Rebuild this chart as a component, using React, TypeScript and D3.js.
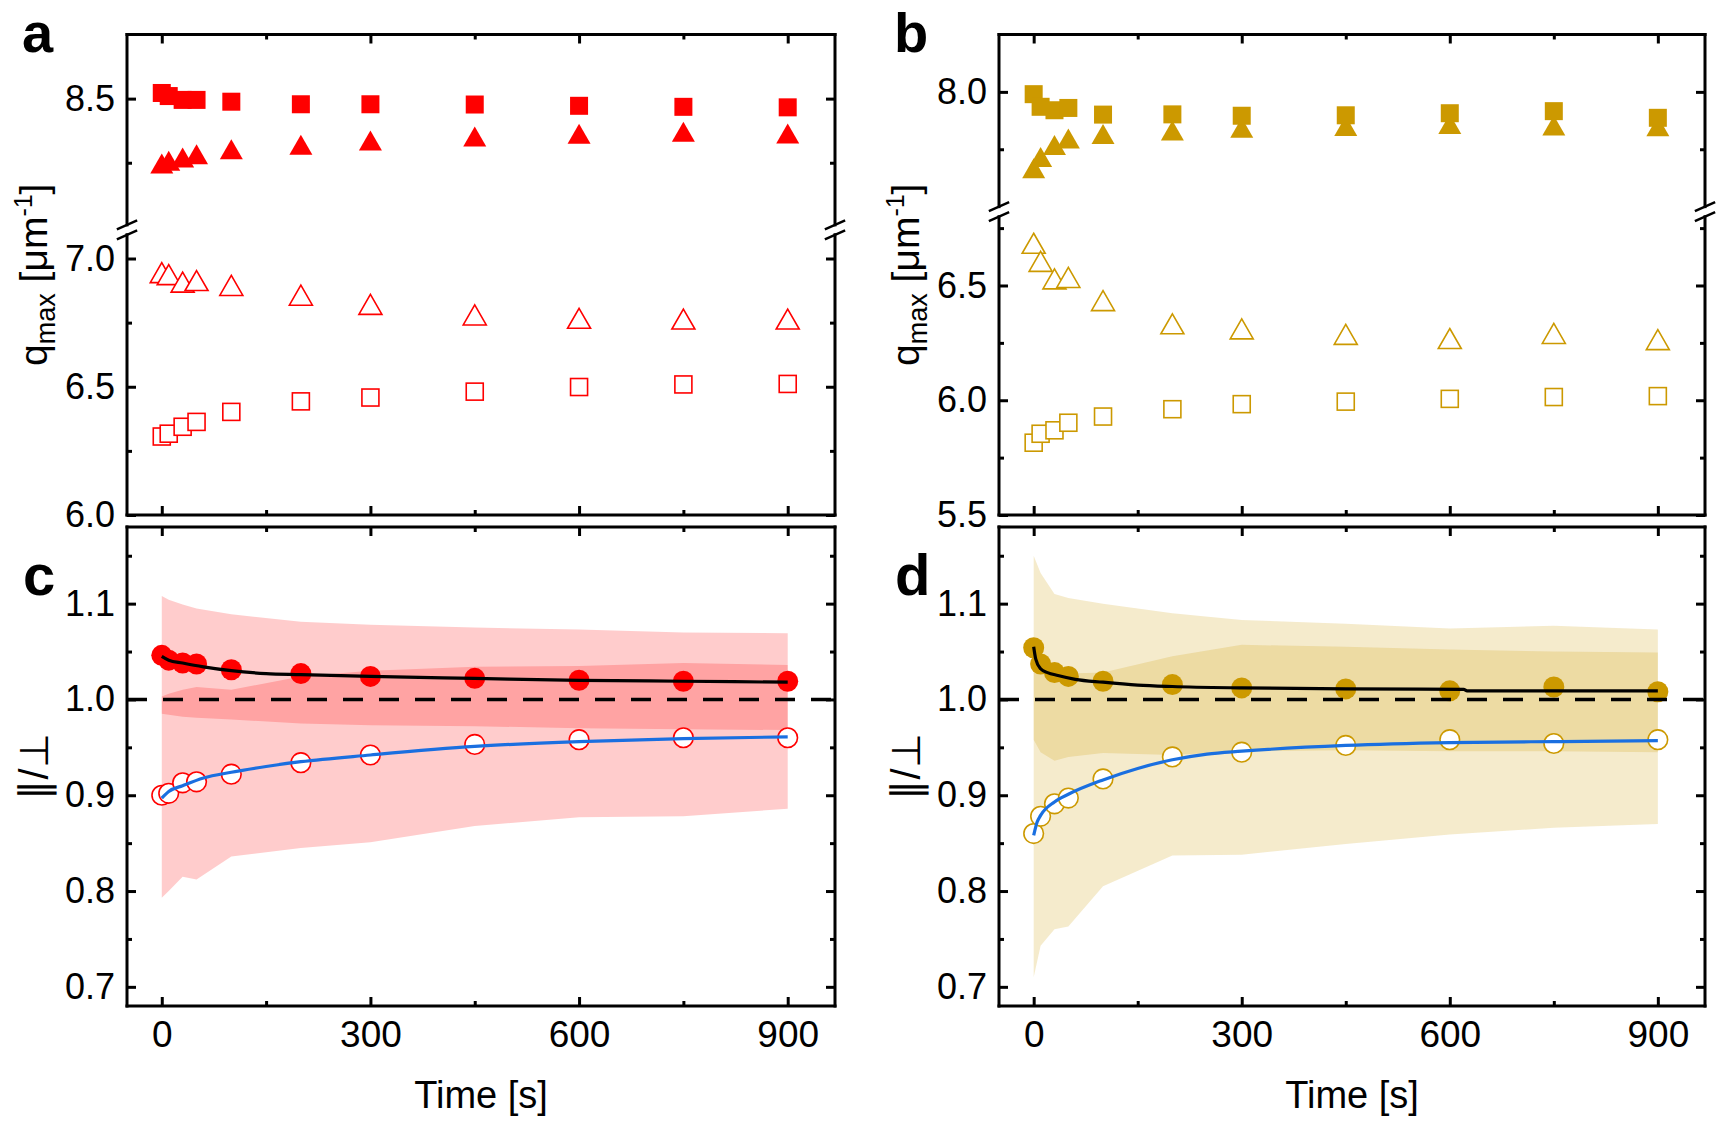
'use client'
import React, { useRef, useEffect } from 'react';
import * as d3 from 'd3';

// sampling times [s]
const times = [0, 10, 30, 50, 100, 200, 300, 450, 600, 750, 900];
const xTicks = [0, 300, 600, 900];
const xMinorTicks = [150, 450, 750];

// panel a : q_max, red
const aFilledSquare = [8.522, 8.51, 8.495, 8.495, 8.488, 8.478, 8.478, 8.477, 8.472, 8.468, 8.466];
const aFilledTriangle = [8.247, 8.258, 8.27, 8.283, 8.303, 8.32, 8.337, 8.352, 8.363, 8.371, 8.364];
const aOpenTriangle = [6.945, 6.937, 6.908, 6.914, 6.895, 6.857, 6.821, 6.78, 6.767, 6.764, 6.764];
const aOpenSquare = [6.306, 6.317, 6.344, 6.363, 6.402, 6.443, 6.458, 6.481, 6.499, 6.509, 6.511];
const aUpperDomain = [8.0, 8.75];
const aLowerDomain = [6.0, 7.1];
const aUpperTicks = [8.5];
const aUpperMinor = [8.25];
const aLowerTicks = [6.0, 6.5, 7.0];
const aLowerMinor = [6.25, 6.75];

// panel b : q_max, gold
const bFilledSquare = [7.99, 7.935, 7.92, 7.93, 7.901, 7.902, 7.896, 7.898, 7.907, 7.916, 7.887];
const bFilledTriangle = [7.667, 7.716, 7.769, 7.797, 7.817, 7.832, 7.844, 7.851, 7.86, 7.853, 7.85];
const bOpenTriangle = [6.684, 6.605, 6.529, 6.535, 6.434, 6.333, 6.311, 6.287, 6.269, 6.291, 6.264];
const bOpenSquare = [5.815, 5.854, 5.869, 5.902, 5.929, 5.961, 5.983, 5.994, 6.006, 6.014, 6.018];
const bUpperDomain = [7.5, 8.25];
const bLowerDomain = [5.5, 6.8];
const bUpperTicks = [8.0];
const bUpperMinor = [7.75];
const bLowerTicks = [5.5, 6.0, 6.5];
const bLowerMinor = [5.75, 6.25, 6.75];

// panels c and d : ratio
const ratioDomain = [0.68, 1.18];
const ratioTicks = [0.7, 0.8, 0.9, 1.0, 1.1];
const ratioMinor = [0.75, 0.85, 0.95, 1.05, 1.15];

// panel c
const cFilled = [1.046, 1.041, 1.038, 1.037, 1.031, 1.027, 1.024, 1.022, 1.02, 1.019, 1.019];
const cOpen = [0.9, 0.902, 0.913, 0.914, 0.922, 0.934, 0.942, 0.953, 0.958, 0.96, 0.96];
const cFilledBandHigh = [1.108, 1.104, 1.099, 1.095, 1.089, 1.081, 1.078, 1.075, 1.073, 1.07, 1.069];
const cFilledBandLow = [0.985, 0.984, 0.982, 0.981, 0.979, 0.975, 0.973, 0.972, 0.97, 0.969, 0.968];
const cOpenBandHigh = [1.003, 1.006, 1.01, 1.013, 1.01, 1.024, 1.03, 1.034, 1.035, 1.038, 1.036];
const cOpenBandLow = [0.793, 0.8, 0.815, 0.812, 0.836, 0.845, 0.851, 0.868, 0.877, 0.878, 0.886];
const cFitTimes = [0, 10, 30, 60, 100, 150, 200, 300, 450, 600, 750, 900];
const cFitBlack = [1.045, 1.041, 1.038, 1.034, 1.03, 1.027, 1.026, 1.024, 1.022, 1.02, 1.019, 1.018];
const cFitBlue = [0.897, 0.904, 0.91, 0.918, 0.924, 0.93, 0.935, 0.942, 0.951, 0.956, 0.959, 0.961];

// panel d
const dFilled = [1.054, 1.037, 1.028, 1.024, 1.019, 1.0155, 1.012, 1.011, 1.009, 1.013, 1.008];
const dOpen = [0.86, 0.878, 0.891, 0.897, 0.917, 0.94, 0.945, 0.952, 0.958, 0.954, 0.958];
const dFilledBandHigh = [1.15, 1.132, 1.11, 1.106, 1.1, 1.09, 1.083, 1.079, 1.074, 1.077, 1.073];
const dFilledBandLow = [0.958, 0.945, 0.936, 0.94, 0.944, 0.942, 0.946, 0.947, 0.946, 0.946, 0.945];
const dOpenBandHigh = [1.03, 1.028, 1.027, 1.027, 1.028, 1.045, 1.057, 1.055, 1.052, 1.05, 1.049];
const dOpenBandLow = [0.71, 0.743, 0.76, 0.763, 0.805, 0.837, 0.838, 0.849, 0.859, 0.866, 0.87];
const dBlackTimes = [0, 3, 10, 20, 35, 60, 100, 150, 200, 300, 450, 620, 625, 750, 900];
const dFitBlack = [1.055, 1.042, 1.032, 1.028, 1.025, 1.021, 1.018, 1.015, 1.0135, 1.012, 1.011, 1.0105, 1.009, 1.009, 1.009];
const dBlueTimes = [0, 5, 10, 30, 50, 100, 150, 200, 250, 300, 450, 600, 750, 900];
const dFitBlue = [0.858, 0.872, 0.879, 0.893, 0.901, 0.916, 0.928, 0.937, 0.943, 0.946, 0.952, 0.955, 0.956, 0.957];

const RED = '#ff0000';
const GOLD = '#cc9900';
const BLUE = '#1a6fe0';
const FONT = '"Liberation Sans", Arial, Helvetica, sans-serif';

type G = d3.Selection<SVGGElement, unknown, null, undefined>;
type Scale = d3.ScaleLinear<number, number>;
type Box = { left: number; right: number; top: number; bottom: number };

const styleAxis = (g: G) => {
  g.select('.domain').remove();
  g.selectAll('line').attr('stroke', '#000').attr('stroke-width', 3);
  g.selectAll('text').attr('font-size', 36).attr('font-family', FONT).attr('fill', '#000');
};

function drawYAxes(g: G, box: Box, y: Scale, major: number[], minor: number[]) {
  const fmt = d3.format('.1f');
  g.append('g').attr('transform', `translate(${box.left},0)`)
    .call(d3.axisLeft(y).tickValues(major).tickSizeInner(-9).tickSizeOuter(0).tickPadding(12)
      .tickFormat(d => fmt(d as number)))
    .call(styleAxis);
  g.append('g').attr('transform', `translate(${box.left},0)`)
    .call(d3.axisLeft(y).tickValues(minor).tickSizeInner(-5).tickSizeOuter(0).tickFormat(() => ''))
    .call(styleAxis);
  g.append('g').attr('transform', `translate(${box.right},0)`)
    .call(d3.axisRight(y).tickValues(major).tickSizeInner(-9).tickSizeOuter(0).tickFormat(() => ''))
    .call(styleAxis);
  g.append('g').attr('transform', `translate(${box.right},0)`)
    .call(d3.axisRight(y).tickValues(minor).tickSizeInner(-5).tickSizeOuter(0).tickFormat(() => ''))
    .call(styleAxis);
}

function drawXAxes(g: G, box: Box, x: Scale, labels: boolean) {
  const bottom = g.append('g').attr('transform', `translate(0,${box.bottom})`)
    .call(d3.axisBottom(x).tickValues(xTicks).tickSizeInner(-9).tickSizeOuter(0).tickPadding(15)
      .tickFormat(d => (labels ? d3.format('d')(d as number) : '')))
    .call(styleAxis);
  bottom.selectAll('text').attr('font-size', 37);
  g.append('g').attr('transform', `translate(0,${box.bottom})`)
    .call(d3.axisBottom(x).tickValues(xMinorTicks).tickSizeInner(-5).tickSizeOuter(0).tickFormat(() => ''))
    .call(styleAxis);
  g.append('g').attr('transform', `translate(0,${box.top})`)
    .call(d3.axisTop(x).tickValues(xTicks).tickSizeInner(-9).tickSizeOuter(0).tickFormat(() => ''))
    .call(styleAxis);
  g.append('g').attr('transform', `translate(0,${box.top})`)
    .call(d3.axisTop(x).tickValues(xMinorTicks).tickSizeInner(-5).tickSizeOuter(0).tickFormat(() => ''))
    .call(styleAxis);
}

function drawFrame(g: G, box: Box, breakY?: number) {
  const line = (x1: number, y1: number, x2: number, y2: number, w = 3) =>
    g.append('line').attr('x1', x1).attr('y1', y1).attr('x2', x2).attr('y2', y2)
      .attr('stroke', '#000').attr('stroke-width', w).attr('stroke-linecap', 'square');
  line(box.left, box.top, box.right, box.top);
  line(box.left, box.bottom, box.right, box.bottom);
  [box.left, box.right].forEach(xx => {
    if (breakY === undefined) {
      line(xx, box.top, xx, box.bottom);
    } else {
      line(xx, box.top, xx, breakY - 5);
      line(xx, breakY + 5, xx, box.bottom);
      [breakY - 5, breakY + 5].forEach(yb => line(xx - 9, yb + 4, xx + 9, yb - 4, 2.5));
    }
  });
}

function squares(g: G, x: Scale, y: Scale, vals: number[], color: string, filled: boolean) {
  const s = filled ? 18 : 17;
  g.append('g').selectAll('rect').data(d3.zip(times, vals)).join('rect')
    .attr('x', d => x(d[0]) - s / 2).attr('y', d => y(d[1]) - s / 2)
    .attr('width', s).attr('height', s)
    .attr('fill', filled ? color : 'white')
    .attr('stroke', filled ? 'none' : color).attr('stroke-width', 1.6);
}

function triangles(g: G, x: Scale, y: Scale, vals: number[], color: string, filled: boolean) {
  const w = 23, h = 20;
  g.append('g').selectAll('path').data(d3.zip(times, vals)).join('path')
    .attr('d', d => {
      const cx = x(d[0]), cy = y(d[1]);
      return `M${cx},${cy - h / 2}L${cx + w / 2},${cy + h / 2}L${cx - w / 2},${cy + h / 2}Z`;
    })
    .attr('fill', filled ? color : 'white')
    .attr('stroke', filled ? 'none' : color).attr('stroke-width', 1.6);
}

function circles(g: G, x: Scale, y: Scale, vals: number[], color: string, filled: boolean) {
  g.append('g').selectAll('circle').data(d3.zip(times, vals)).join('circle')
    .attr('cx', d => x(d[0])).attr('cy', d => y(d[1])).attr('r', filled ? 10.5 : 9.8)
    .attr('fill', filled ? color : 'white')
    .attr('stroke', filled ? 'none' : color).attr('stroke-width', 1.6);
}

function band(g: G, x: Scale, y: Scale, low: number[], high: number[], color: string) {
  const area = d3.area<number>()
    .x(d => x(d))
    .y0((_, i) => y(low[i]))
    .y1((_, i) => y(high[i]));
  g.append('path').datum(times).attr('d', area).attr('fill', color).attr('fill-opacity', 0.2);
}

function fit(g: G, x: Scale, y: Scale, ts: number[], vals: number[], color: string) {
  const line = d3.line<[number, number]>()
    .x(d => x(d[0])).y(d => y(d[1]))
    .curve(d3.curveMonotoneX);
  g.append('path').datum(d3.zip(ts, vals) as [number, number][])
    .attr('d', line).attr('fill', 'none').attr('stroke', color).attr('stroke-width', 3.2);
}

const COLS = [{ left: 127, right: 835 }, { left: 999, right: 1705 }];
const ROWS = [{ top: 34.5, bottom: 515 }, { top: 527, bottom: 1006 }];

const Figure: React.FC = () => {
  const svgRef = useRef<SVGSVGElement | null>(null);

  useEffect(() => {
    if (!svgRef.current) return;
    const svg = d3.select(svgRef.current);
    svg.selectAll('*').remove();
    const root = svg.append('g') as unknown as G;

    // ---------- top row: broken q_max axes ----------
    const topPanels = [
      {
        box: { ...COLS[0], ...ROWS[0] }, color: RED, gap: 6,
        upper: aUpperDomain, lower: aLowerDomain,
        upperTicks: aUpperTicks, upperMinor: aUpperMinor, lowerTicks: aLowerTicks, lowerMinor: aLowerMinor,
        fs: aFilledSquare, ft: aFilledTriangle, ot: aOpenTriangle, os: aOpenSquare, label: 'a',
      },
      {
        box: { ...COLS[1], ...ROWS[0] }, color: GOLD, gap: 10,
        upper: bUpperDomain, lower: bLowerDomain,
        upperTicks: bUpperTicks, upperMinor: bUpperMinor, lowerTicks: bLowerTicks, lowerMinor: bLowerMinor,
        fs: bFilledSquare, ft: bFilledTriangle, ot: bOpenTriangle, os: bOpenSquare, label: 'b',
      },
    ];

    topPanels.forEach(p => {
      const { box } = p;
      const g = root.append('g') as G;
      const x = d3.scaleLinear().domain([-50, 968]).range([box.left, box.right]);
      const span = (p.upper[1] - p.upper[0]) + (p.lower[1] - p.lower[0]);
      const k = (box.bottom - box.top - p.gap) / span;
      const upperBottom = box.top + k * (p.upper[1] - p.upper[0]);
      const yU = d3.scaleLinear().domain(p.upper).range([upperBottom, box.top]);
      const yL = d3.scaleLinear().domain(p.lower).range([box.bottom, upperBottom + p.gap]);

      drawYAxes(g, box, yU, p.upperTicks, p.upperMinor);
      drawYAxes(g, box, yL, p.lowerTicks, p.lowerMinor);
      drawXAxes(g, box, x, false);

      squares(g, x, yL, p.os, p.color, false);
      triangles(g, x, yL, p.ot, p.color, false);
      triangles(g, x, yU, p.ft, p.color, true);
      squares(g, x, yU, p.fs, p.color, true);

      drawFrame(g, box, upperBottom + p.gap / 2);

      const yl = g.append('text')
        .attr('transform', `translate(${box.left - 80},${(box.top + box.bottom) / 2}) rotate(-90)`)
        .attr('text-anchor', 'middle').attr('font-family', FONT).attr('font-size', 39);
      yl.append('tspan').text('q');
      yl.append('tspan').attr('font-size', 27).attr('dy', 8).text('max');
      yl.append('tspan').attr('dy', -8).text(' [μm');
      yl.append('tspan').attr('font-size', 25).attr('dy', -15).text('-1');
      yl.append('tspan').attr('dy', 15).text(']');

      g.append('text').attr('x', box.left - 105).attr('y', 52)
        .attr('font-family', FONT).attr('font-weight', 'bold').attr('font-size', 56).text(p.label);
    });

    // ---------- bottom row: ratio ----------
    const bottomPanels = [
      {
        box: { ...COLS[0], ...ROWS[1] }, color: RED, filled: cFilled, open: cOpen,
        fHigh: cFilledBandHigh, fLow: cFilledBandLow, oHigh: cOpenBandHigh, oLow: cOpenBandLow,
        blackT: cFitTimes, black: cFitBlack, blueT: cFitTimes, blue: cFitBlue, label: 'c',
      },
      {
        box: { ...COLS[1], ...ROWS[1] }, color: GOLD, filled: dFilled, open: dOpen,
        fHigh: dFilledBandHigh, fLow: dFilledBandLow, oHigh: dOpenBandHigh, oLow: dOpenBandLow,
        blackT: dBlackTimes, black: dFitBlack, blueT: dBlueTimes, blue: dFitBlue, label: 'd',
      },
    ];

    bottomPanels.forEach(p => {
      const { box } = p;
      const g = root.append('g') as G;
      const x = d3.scaleLinear().domain([-50, 968]).range([box.left, box.right]);
      const y = d3.scaleLinear().domain(ratioDomain).range([box.bottom, box.top]);

      band(g, x, y, p.fLow, p.fHigh, p.color);
      circles(g, x, y, p.filled, p.color, true);
      band(g, x, y, p.oLow, p.oHigh, p.color);

      g.append('line')
        .attr('x1', box.left).attr('x2', box.right).attr('y1', y(1)).attr('y2', y(1))
        .attr('stroke', '#000').attr('stroke-width', 3.5).attr('stroke-dasharray', '20 16');

      circles(g, x, y, p.open, p.color, false);
      fit(g, x, y, p.blackT, p.black, '#000');
      fit(g, x, y, p.blueT, p.blue, BLUE);

      drawYAxes(g, box, y, ratioTicks, ratioMinor);
      drawXAxes(g, box, x, true);
      drawFrame(g, box);

      g.append('text')
        .attr('transform', `translate(${box.left - 79},${(box.top + box.bottom) / 2}) rotate(-90)`)
        .attr('text-anchor', 'middle').attr('font-family', FONT).attr('font-size', 40)
        .text('∥/⊥');

      g.append('text').attr('x', (box.left + box.right) / 2).attr('y', 1108)
        .attr('text-anchor', 'middle').attr('font-family', FONT).attr('font-size', 38)
        .text('Time [s]');

      g.append('text').attr('x', box.left - 104).attr('y', 595)
        .attr('font-family', FONT).attr('font-weight', 'bold').attr('font-size', 58).text(p.label);
    });
  }, []);

  return (
    <svg ref={svgRef} width={1716} height={1121}
      style={{ position: 'absolute', left: 0, top: 0, background: '#fff' }} />
  );
};

export default function App() {
  return <Figure />;
}
